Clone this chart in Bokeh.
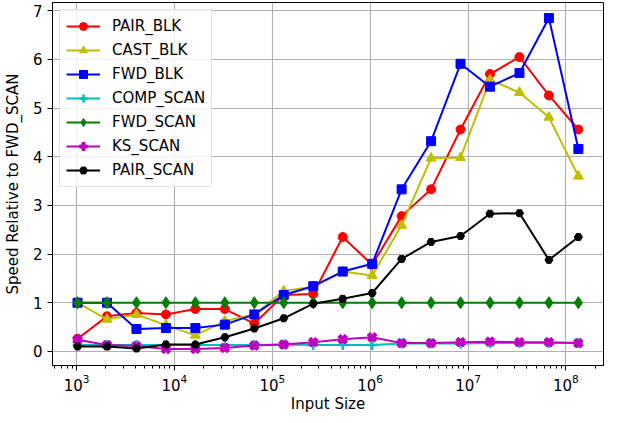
import numpy as np
from bokeh.plotting import figure
from bokeh.models import Range1d, Legend, LegendItem, LogTicker, FixedTicker
from bokeh.embed import file_html
from bokeh.resources import INLINE

sizes = [2 ** k for k in range(10, 28)]

pair_blk = [0.26, 0.72, 0.79, 0.76, 0.87, 0.87, 0.57, 1.16, 1.18, 2.35, 1.78, 2.78, 3.33, 4.56, 5.70, 6.05, 5.26, 4.56]
cast_blk = [1.00, 0.66, 0.76, 0.54, 0.33, 0.62, 0.76, 1.24, 1.33, 1.64, 1.56, 2.59, 3.97, 3.98, 5.58, 5.32, 4.81, 3.60]
fwd_blk = [1.00, 1.00, 0.46, 0.48, 0.48, 0.55, 0.76, 1.16, 1.34, 1.64, 1.80, 3.33, 4.32, 5.91, 5.44, 5.72, 6.85, 4.16]
comp_scan = [0.13, 0.13, 0.13, 0.13, 0.13, 0.13, 0.13, 0.14, 0.13, 0.13, 0.13, 0.16, 0.16, 0.16, 0.17, 0.17, 0.17, 0.17]
fwd_scan = [1.00] * 18
ks_scan = [0.24, 0.13, 0.11, 0.05, 0.05, 0.07, 0.12, 0.14, 0.19, 0.25, 0.29, 0.17, 0.17, 0.19, 0.20, 0.19, 0.19, 0.17]
pair_scan = [0.10, 0.10, 0.06, 0.14, 0.14, 0.29, 0.47, 0.68, 0.98, 1.08, 1.20, 1.90, 2.25, 2.37, 2.83, 2.84, 1.88, 2.35]

series = [
    ("PAIR_BLK", pair_blk, "#ff0000", "circle", 9, 0),
    ("CAST_BLK", cast_blk, "#bfbf00", "triangle", 10, 0),
    ("FWD_BLK", fwd_blk, "#0000ff", "square", 9, 0),
    ("COMP_SCAN", comp_scan, "#00bfbf", "cross", 10, 0),
    ("FWD_SCAN", fwd_scan, "#008000", "diamond", 12, 0),
    ("KS_SCAN", ks_scan, "#bf00bf", "plus", 10, np.pi / 4),
    ("PAIR_SCAN", pair_scan, "#000000", "hex", 8, 0),
]

FONT = "DejaVu Sans"

p = figure(width=605, height=415, x_axis_type="log", output_backend="svg",
           toolbar_location=None,
           x_range=Range1d(10 ** 2.7544, 10 ** 8.3844),
           y_range=Range1d(-0.29, 7.17),
           min_border_left=6, min_border_right=2, min_border_top=2, min_border_bottom=0)

p.outline_line_color = "black"
p.outline_line_width = 1
p.background_fill_color = "white"
p.border_fill_color = "white"

p.xaxis.ticker = LogTicker(num_minor_ticks=10)
p.yaxis.ticker = FixedTicker(ticks=list(range(0, 8)))
p.xaxis.axis_label = "Input Size"
p.yaxis.axis_label = "Speed Relative to FWD_SCAN"
for ax in (p.xaxis, p.yaxis):
    ax.axis_label_text_font = FONT
    ax.axis_label_text_font_size = "15px"
    ax.axis_label_text_font_style = "normal"
    ax.axis_label_text_color = "black"
    ax.major_label_text_font = FONT
    ax.major_label_text_font_size = "15px"
    ax.major_label_text_color = "black"
    ax.major_tick_out = 5
    ax.major_tick_in = 0
    ax.minor_tick_out = 3
    ax.minor_tick_in = 0
    ax.axis_line_color = "black"
    ax.major_tick_line_color = "black"
    ax.minor_tick_line_color = "black"
p.xaxis.major_label_standoff = 3
p.xaxis.axis_label_standoff = 1
p.yaxis.major_label_standoff = 5
p.yaxis.axis_label_standoff = 8
p.yaxis.minor_tick_line_color = None

p.xgrid.grid_line_color = "#b0b0b0"
p.ygrid.grid_line_color = "#b0b0b0"
p.xgrid.grid_line_width = 1.1
p.ygrid.grid_line_width = 1.1
p.xgrid.ticker = p.xaxis.ticker
p.ygrid.ticker = p.yaxis.ticker

items = []
for name, vals, color, marker, size, ang in series:
    r1 = p.line(sizes, vals, line_color=color, line_width=2)
    if marker == "cross":
        r2 = p.scatter(sizes, vals, marker=marker, size=size, line_color=color,
                       line_width=2.5)
    else:
        r2 = p.scatter(sizes, vals, marker=marker, size=size, fill_color=color,
                       line_color=color, angle=ang)
    items.append(LegendItem(label=name, renderers=[r1, r2]))

legend = Legend(items=items, location="top_left")
legend.label_text_font = FONT
legend.label_text_font_size = "15px"
legend.label_text_color = "black"
legend.glyph_width = 34
legend.glyph_height = 20
legend.label_height = 20
legend.spacing = 4
legend.padding = 6
legend.margin = 7
legend.label_standoff = 12
legend.border_line_color = "#cccccc"
legend.border_line_width = 1
legend.background_fill_alpha = 0.8
p.add_layout(legend)

open("out.html", "w").write(file_html(p, INLINE))
